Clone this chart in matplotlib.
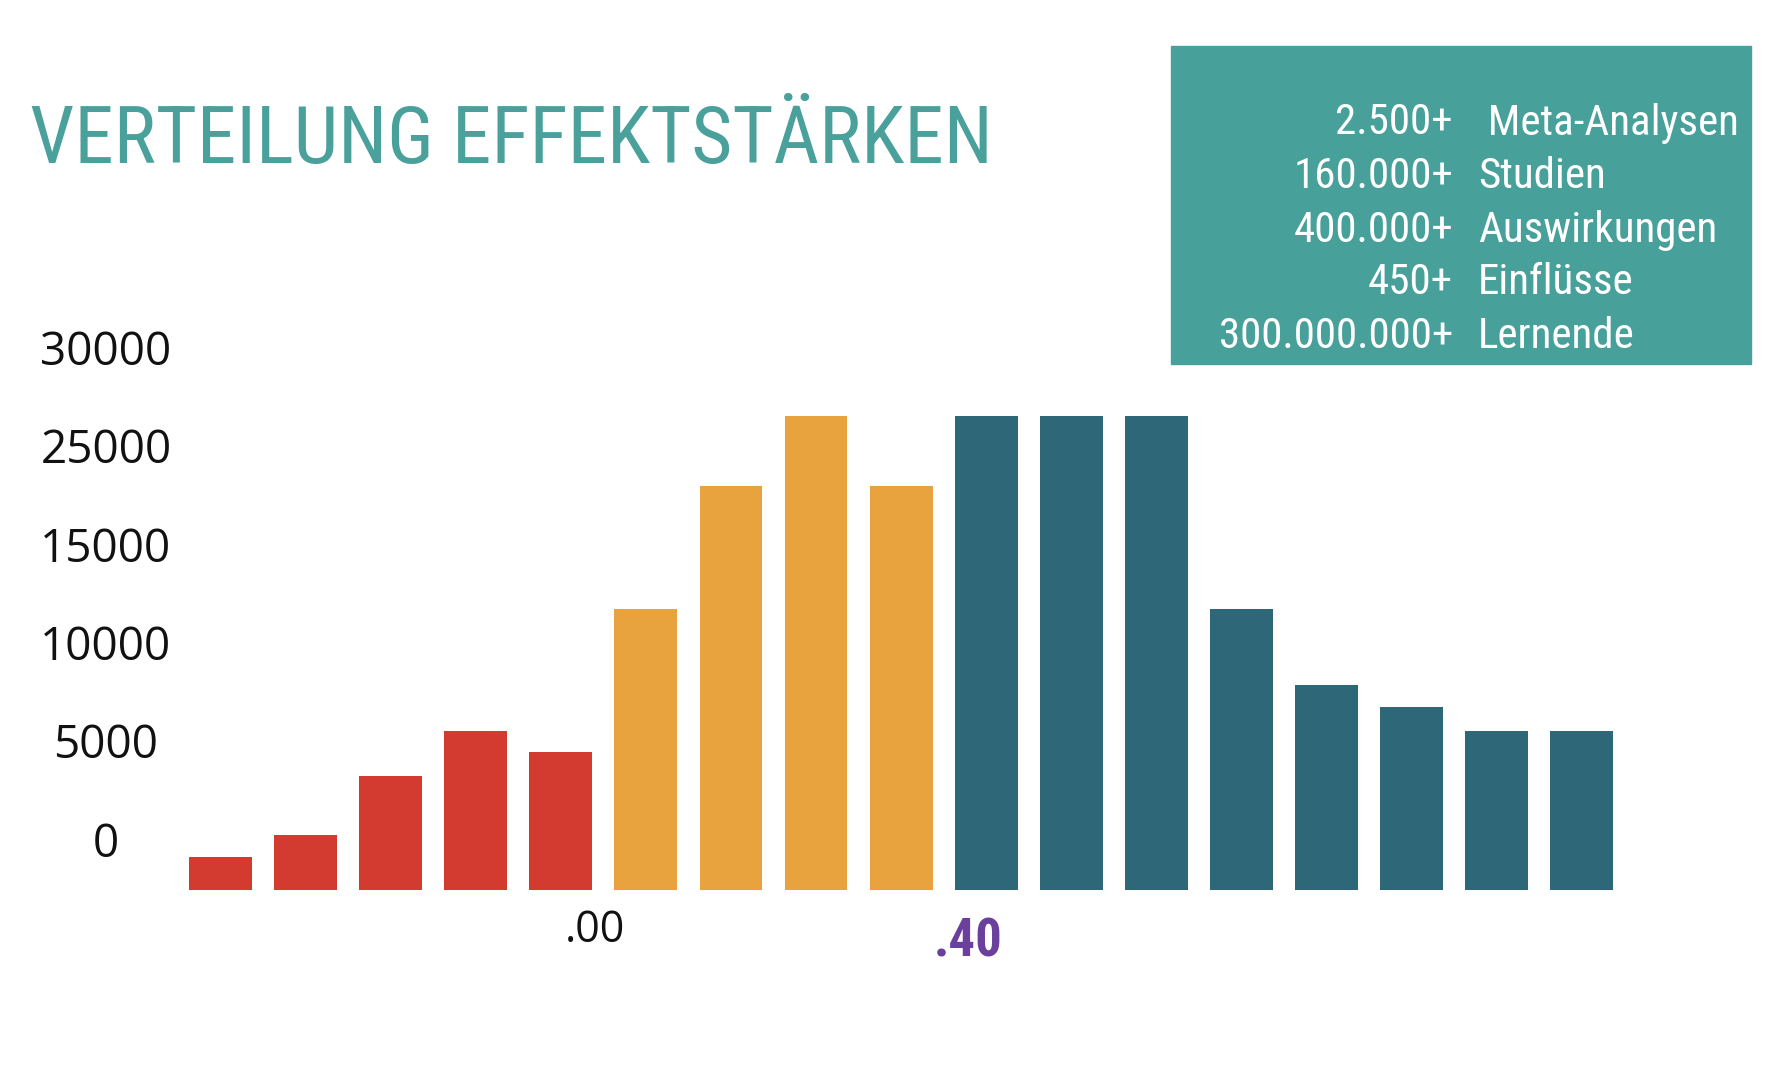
import matplotlib
matplotlib.use("Agg")
import matplotlib.pyplot as plt
import matplotlib.font_manager as fm
from matplotlib.patches import Rectangle

# bar heights (counts), left to right
heights = [1700, 2800, 5800, 8100, 7000,
           14300, 20500, 24100, 20500,
           24100, 24100, 24100, 14300, 10400, 9300, 8100, 8100]
groups = ["neg"] * 5 + ["low"] * 4 + ["high"] * 8
group_colors = {"neg": "#d43b30", "low": "#e8a23e", "high": "#2e6778"}

ytick_labels = ["0", "5000", "10000", "15000", "25000", "30000"]
x_marks = [".00", ".40"]
x_mark_pos = [4.4, 8.79]

stat_numbers = ["2.500+", "160.000+", "400.000+", "450+", "300.000.000+"]
stat_words = [" Meta-Analysen", "Studien", "Auswirkungen", "Einflüsse", "Lernende"]

title = "VERTEILUNG EFFEKTSTÄRKEN"

names = {f.name for f in fm.fontManager.ttflist}
narrow = next((n for n in ["Liberation Sans Narrow", "Roboto Condensed",
                           "Open Sans Condensed", "DejaVu Sans"] if n in names),
              "DejaVu Sans")
sans = "Open Sans" if "Open Sans" in names else "DejaVu Sans"

W, H = 1766, 1080
fig = plt.figure(figsize=(W / 100, H / 100), dpi=100)
fig.patch.set_facecolor("white")

# plot area in pixels: x 150..1650, y (from top) 300..890
ax = fig.add_axes([150 / W, (H - 890) / H, 1500 / W, 590 / H])
px_per_unit = 50.8
ax.set_ylim(0, 590 * px_per_unit)
ax.set_xlim((150 - 220.8) / 85.03, (1650 - 220.8) / 85.03)

ax.bar(range(len(heights)), heights, width=0.74,
       color=[group_colors[g] for g in groups])

ax.set_yticks([2574 + 5000 * i for i in range(len(ytick_labels))], ytick_labels)
ax.tick_params(axis="y", length=0, pad=31.7, labelsize=33, labelcolor="#111111")
for lbl in ax.get_yticklabels():
    lbl.set_ha("center")
    lbl.set_family(sans)
ax.set_xticks([])
for s in ax.spines.values():
    s.set_visible(False)

ax.text(x_mark_pos[0], -41 * px_per_unit, x_marks[0], ha="center", va="center",
        fontsize=31, family=sans, color="#111111", clip_on=False)
ax.text(x_mark_pos[1], -52 * px_per_unit, x_marks[1], ha="center", va="center",
        fontsize=38, family=narrow, weight="bold", color="#6a3f9e", clip_on=False)

# title
fig.text(30 / W, 1 - 163 / H, title, ha="left", va="baseline",
         fontsize=57, family=narrow, color="#4aa19b")

# stats box
fig.patches.append(Rectangle((1171 / W, 1 - 364 / H), 580 / W, 318 / H,
                             transform=fig.transFigure, color="#48a09a"))
line_y = [123, 177, 230, 283, 336]
for y, num, word in zip(line_y, stat_numbers, stat_words):
    fig.text(1453 / W, 1 - y / H, num, ha="right", va="center",
             fontsize=31, family=narrow, color="white")
    fig.text(1478 / W, 1 - y / H, word, ha="left", va="center",
             fontsize=31, family=narrow, color="white")

fig.savefig("out.png", dpi=100)
